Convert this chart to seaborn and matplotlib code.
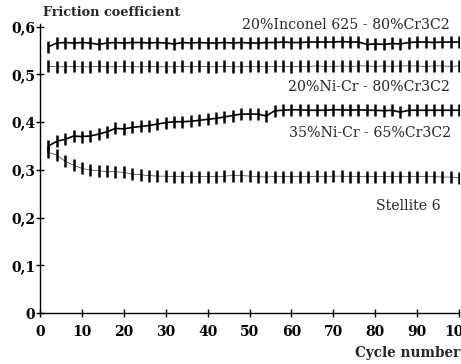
import matplotlib
matplotlib.use("Agg")
import matplotlib.pyplot as plt
import seaborn as sns
import pandas as pd

cycles = [2, 4, 6, 8, 10, 12, 14, 16, 18, 20, 22, 24, 26, 28, 30, 32, 34, 36, 38, 40,
          42, 44, 46, 48, 50, 52, 54, 56, 58, 60, 62, 64, 66, 68, 70, 72, 74, 76, 78, 80,
          82, 84, 86, 88, 90, 92, 94, 96, 98, 100]

inconel = [0.558, 0.566, 0.567, 0.566, 0.567, 0.566, 0.563, 0.566, 0.567, 0.566,
           0.567, 0.567, 0.566, 0.567, 0.566, 0.564, 0.567, 0.566, 0.567, 0.566,
           0.566, 0.567, 0.566, 0.567, 0.566, 0.566, 0.567, 0.567, 0.568, 0.567,
           0.567, 0.568, 0.568, 0.568, 0.568, 0.569, 0.568, 0.568, 0.563, 0.564,
           0.563, 0.565, 0.564, 0.567, 0.568, 0.568, 0.567, 0.568, 0.568, 0.568]

nicr80 = [0.517, 0.516, 0.516, 0.517, 0.516, 0.516, 0.517, 0.516, 0.516, 0.517,
          0.516, 0.516, 0.517, 0.516, 0.516, 0.516, 0.517, 0.516, 0.517, 0.516,
          0.516, 0.517, 0.516, 0.516, 0.517, 0.517, 0.516, 0.517, 0.517, 0.516,
          0.517, 0.517, 0.518, 0.517, 0.517, 0.518, 0.517, 0.518, 0.518, 0.517,
          0.518, 0.517, 0.518, 0.518, 0.518, 0.517, 0.518, 0.518, 0.517, 0.518]

nicr65 = [0.350, 0.360, 0.364, 0.371, 0.370, 0.371, 0.375, 0.380, 0.387, 0.386,
          0.389, 0.391, 0.393, 0.396, 0.399, 0.401, 0.401, 0.402, 0.404, 0.406,
          0.408, 0.411, 0.414, 0.417, 0.417, 0.417, 0.413, 0.424, 0.425, 0.426,
          0.426, 0.425, 0.425, 0.425, 0.426, 0.426, 0.425, 0.426, 0.425, 0.425,
          0.424, 0.425, 0.421, 0.425, 0.425, 0.425, 0.425, 0.425, 0.425, 0.425]

stellite = [0.337, 0.331, 0.318, 0.310, 0.303, 0.300, 0.298, 0.297, 0.296, 0.295,
            0.291, 0.290, 0.288, 0.287, 0.287, 0.286, 0.286, 0.286, 0.286, 0.286,
            0.286, 0.287, 0.288, 0.288, 0.287, 0.286, 0.285, 0.286, 0.286, 0.286,
            0.286, 0.286, 0.287, 0.286, 0.287, 0.287, 0.286, 0.286, 0.286, 0.286,
            0.286, 0.286, 0.286, 0.286, 0.286, 0.286, 0.286, 0.285, 0.285, 0.284]

series_names = ["20%Inconel 625 - 80%Cr3C2", "20%Ni-Cr - 80%Cr3C2",
                "35%Ni-Cr - 65%Cr3C2", "Stellite 6"]
y_ticks = [0, 0.1, 0.2, 0.3, 0.4, 0.5, 0.6]
y_tick_labels = ["0", "0,1", "0,2", "0,3", "0,4", "0,5", "0,6"]
x_ticks = [0, 10, 20, 30, 40, 50, 60, 70, 80, 90, 100]

sns.set_style("ticks")
plt.rcParams["font.family"] = ["DejaVu Serif", "Liberation Serif"]

fig = plt.figure(figsize=(4.61, 3.64), dpi=100)
ax = fig.add_axes([0.0868, 0.140, 0.9090, 0.793])

frames = []
for name, vals in zip(series_names, [inconel, nicr80, nicr65, stellite]):
    frames.append(pd.DataFrame({"cycle": cycles, "mu": vals, "series": name}))
df = pd.concat(frames)

line_w = {series_names[0]: 1.2, series_names[1]: 0.4,
          series_names[2]: 1.2, series_names[3]: 0.4}
for name in series_names:
    sub = df[df["series"] == name]
    sns.lineplot(data=sub, x="cycle", y="mu", ax=ax, color="black",
                 linewidth=line_w[name], marker="|", markersize=8.5,
                 markeredgewidth=1.8, markeredgecolor="black", legend=False)

ax.set_xlim(0, 100)
ax.set_ylim(0, 0.605)
ax.set_xticks(x_ticks)
ax.set_xticklabels([str(t) for t in x_ticks], fontsize=10, fontweight="bold")
ax.set_yticks(y_ticks)
ax.set_yticklabels(y_tick_labels, fontsize=10, fontweight="bold")
ax.tick_params(direction="inout", length=6, width=1, colors="black")
ax.tick_params(axis="y", pad=0.5)
ax.tick_params(axis="x", pad=5.5)
ax.set_xlabel("")
ax.set_ylabel("")
for s in ["top", "right"]:
    ax.spines[s].set_visible(False)
for s in ["left", "bottom"]:
    ax.spines[s].set_color("black")
    ax.spines[s].set_linewidth(1.0)

fig.text(43 / 461, 1 - 13 / 364, "Friction coefficient", fontsize=9.3,
         fontweight="bold", va="center", ha="left")
fig.text(460 / 461, 1 - 353 / 364, "Cycle number", fontsize=9.8,
         fontweight="bold", va="center", ha="right")

ax.text(0.978, 0.998, series_names[0], transform=ax.transAxes, fontsize=10.2,
        ha="right", va="center")
ax.text(0.978, 0.783, series_names[1], transform=ax.transAxes, fontsize=10.2,
        ha="right", va="center")
ax.text(0.980, 0.624, series_names[2], transform=ax.transAxes, fontsize=10.2,
        ha="right", va="center")
ax.text(0.955, 0.371, series_names[3], transform=ax.transAxes, fontsize=10.2,
        ha="right", va="center")

fig.savefig("out.png", dpi=100)
